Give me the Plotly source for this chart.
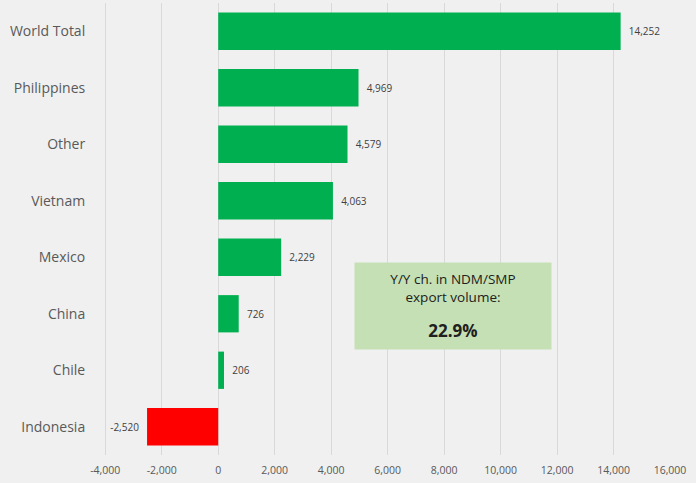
import plotly.graph_objects as go

categories = ["World Total", "Philippines", "Other", "Vietnam", "Mexico", "China", "Chile", "Indonesia"]
values = [14252, 4969, 4579, 4063, 2229, 726, 206, -2520]
colors = ["#00b050" if v >= 0 else "#ff0000" for v in values]
labels = [f"  {v:,}" if v >= 0 else f"{v:,}  " for v in values]
tick_vals = list(range(-4000, 16001, 2000))
tick_text = [f"{v:,}" for v in tick_vals]
box_text = ("Y/Y ch. in NDM/SMP<br>export volume:<br>"
            "<span style='font-size:5px'> </span><br>"
            "<span style='font-size:17px'><b>22.9%</b></span>")

fig = go.Figure(go.Bar(
    y=categories, x=values, orientation="h",
    marker=dict(color=colors, line=dict(width=0)),
    text=labels, textposition="outside", cliponaxis=False,
    textfont=dict(size=10, color="#404040", family="Open Sans"),
    width=0.66,
))

fig.update_layout(
    width=696, height=483,
    margin=dict(l=103, r=26, t=3, b=28),
    paper_bgcolor="#f0f0f0", plot_bgcolor="#f0f0f0",
    font=dict(family="Open Sans", color="#595959"),
    showlegend=False,
    xaxis=dict(range=[-4080, 16000], tickvals=tick_vals, ticktext=tick_text,
               showgrid=True, gridcolor="#d9d9d9", gridwidth=1, zeroline=False,
               tickfont=dict(size=10.5, color="#595959"), ticks="outside",
               ticklen=5, tickcolor="rgba(0,0,0,0)", showline=False,
               automargin=False, fixedrange=True),
    yaxis=dict(categoryorder="array", categoryarray=categories[::-1],
               tickfont=dict(size=14, color="#595959"), ticks="outside",
               ticklen=14, tickcolor="rgba(0,0,0,0)", showgrid=False, zeroline=False,
               automargin=False),
    annotations=[dict(
        x=0.617, y=0.33, xref="paper", yref="paper", xanchor="center", yanchor="middle",
        text=box_text, showarrow=False, align="center",
        font=dict(size=13.5, color="#202020", family="Open Sans"),
        bgcolor="#c5e0b4", width=188, height=78,
        borderpad=4,
    )],
)

fig.write_html("out.html", config={"displayModeBar": False},
               post_script="document.body.style.margin='0';document.body.style.background='#f0f0f0';")
